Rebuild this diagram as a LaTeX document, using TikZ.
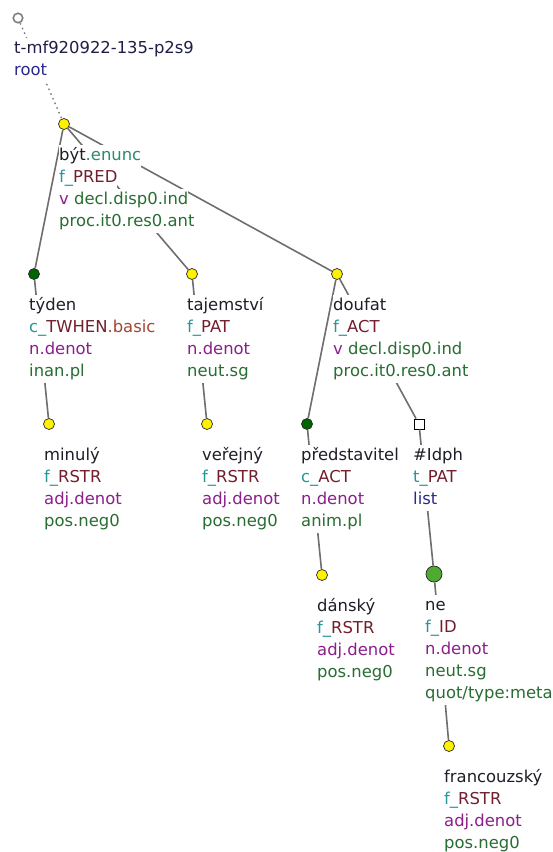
\documentclass[tikz,border=0pt]{standalone}
\usepackage{fontspec}
\setmainfont{DejaVu Sans}
\usepackage{tikz}
\usetikzlibrary{calc}
\definecolor{lemcol}{RGB}{30,30,40}
\definecolor{idcol}{RGB}{30,30,70}
\definecolor{rootcol}{RGB}{45,40,140}
\definecolor{precol}{RGB}{40,150,150}
\definecolor{funcol}{RGB}{115,30,45}
\definecolor{subcol}{RGB}{165,70,50}
\definecolor{enucol}{RGB}{40,140,110}
\definecolor{semcol}{RGB}{140,30,140}
\definecolor{gramcol}{RGB}{40,110,50}
\definecolor{edgecol}{RGB}{110,110,110}
\definecolor{darkgreennode}{RGB}{0,100,0}
\definecolor{lightgreennode}{RGB}{80,170,50}
\newcommand{\tline}[1]{{\setlength{\fboxsep}{0pt}\colorbox{white}{\strut #1}}}
\newcommand{\tlem}[1]{\textcolor{lemcol}{#1}}
\newcommand{\tpre}[1]{\textcolor{precol}{#1}}
\newcommand{\tfun}[1]{\textcolor{funcol}{#1}}
\newcommand{\tsem}[1]{\textcolor{semcol}{#1}}
\newcommand{\tgram}[1]{\textcolor{gramcol}{#1}}
\tikzset{
    tnode/.style={
        circle,
        draw=black!85,
        line width=0.7pt,
        inner sep=0pt,
        minimum size=11pt
    },
    yellownode/.style={
        tnode,
        fill=yellow
    },
    greennode/.style={
        tnode,
        fill=darkgreennode
    },
    bignode/.style={
        tnode,
        minimum size=16pt,
        fill=lightgreennode
    },
    squarenode/.style={
        rectangle,
        draw=black,
        line width=0.9pt,
        fill=white,
        inner sep=0pt,
        minimum size=10pt
    },
    rootnode/.style={
        circle,
        draw=gray,
        line width=1.6pt,
        fill=white,
        inner sep=0pt,
        minimum size=9.5pt
    },
    treeedge/.style={
        draw=edgecol,
        line width=1.6pt
    },
    rootedge/.style={
        draw=gray,
        line width=1.4pt,
        dash pattern=on 1.6pt off 3.5pt
    },
    nodelbl/.style={
        anchor=north west,
        inner sep=0pt,
        align=left,
        font=\fontsize{16.4}{22}\selectfont
    }
}
\begin{document}
\begin{tikzpicture}[x=1pt,y=-1pt]
    \useasboundingbox (0,0) rectangle (553,852);

    %% tree nodes
    \node (root) [rootnode] at (18,18) {};
    \node (byt) [yellownode] at (64,124) {};
    \node (tyden) [greennode] at (34,274) {};
    \node (tajemstvi) [yellownode] at (192,274) {};
    \node (doufat) [yellownode] at (337,274) {};
    \node (minuly) [yellownode] at (49,424) {};
    \node (verejny) [yellownode] at (207,424) {};
    \node (predstavitel) [greennode] at (307,424) {};
    \node (idph) [squarenode] at (419,424) {};
    \node (dansky) [yellownode] at (322,575) {};
    \node (ne) [bignode] at (434,574) {};
    \node (francouzsky) [yellownode] at (449,746) {};

    %% edges
    \draw[rootedge] (root) -- (byt);
    \draw[treeedge] (byt) -- (tyden);
    \draw[treeedge] (byt) -- (tajemstvi);
    \draw[treeedge] (byt) -- (doufat);
    \draw[treeedge] (tyden) -- (minuly);
    \draw[treeedge] (tajemstvi) -- (verejny);
    \draw[treeedge] (doufat) -- (predstavitel);
    \draw[treeedge] (doufat) -- (idph);
    \draw[treeedge] (predstavitel) -- (dansky);
    \draw[treeedge] (idph) -- (ne);
    \draw[treeedge] (ne) -- (francouzsky);

    %% labels
    \node (rootL) [nodelbl] at ($(root)+(-4,20)$) {\tline{\textcolor{idcol}{t-mf920922-135-p2s9}}\\
        \tline{\textcolor{rootcol}{root}}};

    \node (bytL) [nodelbl] at ($(byt)+(-5,21)$) {\tline{\tlem{být}\textcolor{enucol}{.enunc}}\\
        \tline{\tpre{f\_}\tfun{PRED}}\\
        \tline{\tsem{v} \tgram{decl.disp0.ind}}\\
        \tline{\tgram{proc.it0.res0.ant}}};

    \node (tydenL) [nodelbl] at ($(tyden)+(-5,21)$) {\tline{\tlem{týden}}\\
        \tline{\tpre{c\_}\tfun{TWHEN}\textcolor{subcol}{.basic}}\\
        \tline{\tsem{n.denot}}\\
        \tline{\tgram{inan.pl}}};

    \node (tajemstviL) [nodelbl] at ($(tajemstvi)+(-5,21)$) {\tline{\tlem{tajemství}}\\
        \tline{\tpre{f\_}\tfun{PAT}}\\
        \tline{\tsem{n.denot}}\\
        \tline{\tgram{neut.sg}}};

    \node (doufatL) [nodelbl] at ($(doufat)+(-4,21)$) {\tline{\tlem{doufat}}\\
        \tline{\tpre{f\_}\tfun{ACT}}\\
        \tline{\tsem{v} \tgram{decl.disp0.ind}}\\
        \tline{\tgram{proc.it0.res0.ant}}};

    \node (minulyL) [nodelbl] at ($(minuly)+(-5,21)$) {\tline{\tlem{minulý}}\\
        \tline{\tpre{f\_}\tfun{RSTR}}\\
        \tline{\tsem{adj.denot}}\\
        \tline{\tgram{pos.neg0}}};

    \node (verejnyL) [nodelbl] at ($(verejny)+(-5,21)$) {\tline{\tlem{veřejný}}\\
        \tline{\tpre{f\_}\tfun{RSTR}}\\
        \tline{\tsem{adj.denot}}\\
        \tline{\tgram{pos.neg0}}};

    \node (predstavitelL) [nodelbl] at ($(predstavitel)+(-6,21)$) {\tline{\tlem{představitel}}\\
        \tline{\tpre{c\_}\tfun{ACT}}\\
        \tline{\tsem{n.denot}}\\
        \tline{\tgram{anim.pl}}};

    \node (idphL) [nodelbl] at ($(idph)+(-6,21)$) {\tline{\tlem{\#Idph}}\\
        \tline{\tpre{t\_}\tfun{PAT}}\\
        \tline{\textcolor{rootcol}{list}}};

    \node (danskyL) [nodelbl] at ($(dansky)+(-5,21)$) {\tline{\tlem{dánský}}\\
        \tline{\tpre{f\_}\tfun{RSTR}}\\
        \tline{\tsem{adj.denot}}\\
        \tline{\tgram{pos.neg0}}};

    \node (neL) [nodelbl] at ($(ne)+(-9,21)$) {\tline{\tlem{ne}}\\
        \tline{\tpre{f\_}\tfun{ID}}\\
        \tline{\tsem{n.denot}}\\
        \tline{\tgram{neut.sg}}\\
        \tline{\tgram{quot/type:meta}}};

    \node (francouzskyL) [nodelbl] at ($(francouzsky)+(-5,21)$) {\tline{\tlem{francouzský}}\\
        \tline{\tpre{f\_}\tfun{RSTR}}\\
        \tline{\tsem{adj.denot}}\\
        \tline{\tgram{pos.neg0}}};

\end{tikzpicture}
\end{document}
